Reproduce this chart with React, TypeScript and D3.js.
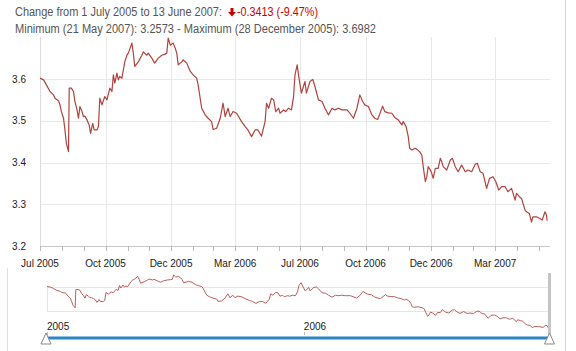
import React from 'react';
import * as d3 from 'd3';

// days since 1 July 2005, and the rate read at that day
const dayOffsets = [
  0, 5, 9, 14, 19, 21, 26, 28, 30, 33, 35, 37, 40, 41, 44, 47, 49, 52, 54, 56,
  59, 61, 63, 66, 69, 71, 74, 76, 80, 82, 84, 87, 91, 94, 98, 101, 103, 105, 108, 110,
  112, 115, 119, 122, 124, 129, 131, 133, 138, 143, 145, 150, 152, 157, 161, 166, 171, 175, 178, 180,
  183, 187, 190, 192, 194, 199, 201, 206, 211, 215, 220, 222, 227, 232, 236, 241, 243, 248, 253, 257,
  260, 264, 267, 271, 276, 283, 288, 292, 297, 302, 306, 311, 316, 318, 321, 325, 328, 331, 335, 337,
  342, 345, 349, 353, 356, 358, 361, 364, 367, 372, 374, 379, 383, 386, 391, 396, 400, 405, 410, 414,
  419, 424, 431, 435, 440, 445, 449, 453, 456, 461, 466, 470, 474, 477, 481, 484, 489, 494, 498, 503,
  508, 510, 514, 517, 519, 522, 527, 533, 536, 538, 541, 543, 545, 548, 550, 552, 555, 559, 562, 564,
  566, 571, 576, 579, 583, 587, 592, 597, 601, 606, 611, 614, 618, 622, 627, 631, 636, 640, 644, 648,
  653, 657, 662, 667, 669, 673, 676, 681, 683, 687, 690, 692, 697, 702, 705, 709, 711, 712,
];

const rates = [
  3.602, 3.598, 3.586, 3.570, 3.562, 3.554, 3.548, 3.538, 3.522, 3.506, 3.478, 3.446, 3.426, 3.578, 3.578, 3.570, 3.546, 3.526, 3.506, 3.534,
  3.522, 3.510, 3.511, 3.502, 3.490, 3.470, 3.494, 3.478, 3.478, 3.486, 3.554, 3.538, 3.558, 3.550, 3.578, 3.570, 3.610, 3.590, 3.614, 3.598,
  3.606, 3.602, 3.641, 3.657, 3.662, 3.686, 3.662, 3.630, 3.641, 3.657, 3.665, 3.657, 3.662, 3.650, 3.638, 3.650, 3.657, 3.659, 3.662, 3.698,
  3.681, 3.686, 3.673, 3.662, 3.634, 3.641, 3.646, 3.638, 3.618, 3.610, 3.602, 3.586, 3.530, 3.514, 3.506, 3.498, 3.479, 3.482, 3.506, 3.542,
  3.510, 3.530, 3.510, 3.522, 3.518, 3.498, 3.486, 3.478, 3.462, 3.478, 3.478, 3.463, 3.498, 3.542, 3.530, 3.554, 3.550, 3.522, 3.530, 3.518,
  3.526, 3.522, 3.530, 3.526, 3.558, 3.610, 3.634, 3.598, 3.566, 3.594, 3.566, 3.594, 3.599, 3.582, 3.550, 3.546, 3.530, 3.514, 3.530, 3.526,
  3.530, 3.526, 3.526, 3.518, 3.506, 3.530, 3.562, 3.546, 3.538, 3.534, 3.514, 3.506, 3.503, 3.516, 3.535, 3.522, 3.519, 3.518, 3.508, 3.502,
  3.490, 3.498, 3.486, 3.462, 3.434, 3.430, 3.434, 3.426, 3.418, 3.390, 3.354, 3.366, 3.390, 3.382, 3.374, 3.362, 3.386, 3.386, 3.410, 3.402,
  3.390, 3.382, 3.406, 3.410, 3.390, 3.378, 3.394, 3.378, 3.382, 3.378, 3.396, 3.398, 3.378, 3.374, 3.338, 3.362, 3.366, 3.354, 3.334, 3.342,
  3.342, 3.330, 3.338, 3.310, 3.326, 3.318, 3.314, 3.286, 3.282, 3.278, 3.2573, 3.270, 3.270, 3.266, 3.262, 3.282, 3.274, 3.2605,
];

const axisLabels = ['Jul 2005', 'Oct 2005', 'Dec 2005', 'Mar 2006', 'Jul 2006', 'Oct 2006', 'Dec 2006', 'Mar 2007'];
const yTicks = [3.2, 3.3, 3.4, 3.5, 3.6];
const navGridValues = [3.4, 3.6];
const navYears = ['2005', '2006'];

const START = new Date(2005, 6, 1);
const AXIS_END = new Date(2007, 5, 17);
const DATA_END = new Date(2007, 5, 13);
const FONT = 'Arial, "Liberation Sans", sans-serif';
const LINE_COLOR = '#b0433d';

export default function App() {
  const points = dayOffsets.map((d, i) => ({ date: d3.timeDay.offset(START, d), value: rates[i] }));

  // main chart scales
  const x = d3.scaleTime().domain([START, AXIS_END]).range([40, 550]);
  const y = d3.scaleLinear().domain([3.2, 3.7]).range([246, 37.25]);

  // navigator scales
  const nx = d3.scaleTime().domain([START, DATA_END]).range([47, 548]);
  const ny = d3.scaleLinear().domain([3.2573, 3.6982]).range([328, 275]);

  const line = d3.line<{ date: Date; value: number }>()
    .x(d => x(d.date))
    .y(d => y(d.value));
  const navLine = d3.line<{ date: Date; value: number }>()
    .x(d => nx(d.date))
    .y(d => ny(d.value));

  const monthTicks = d3.timeMonth.range(START, AXIS_END);
  const majorTicks = d3.timeMonth.every(3)!.range(START, AXIS_END);
  const yearTicks = navYears.map(yr => new Date(+yr, 6, 1));

  const [x0, x1] = x.range();
  const navL = nx.range()[0];
  const navR = nx.range()[1];

  return (
    <svg width={576} height={351} style={{ position: 'absolute', left: 0, top: 0, background: '#fff' }} fontFamily={FONT}>
      {/* header */}
      <text x={15} y={16} fontSize={12} fill="#555" textLength={207} lengthAdjust="spacingAndGlyphs">
        Change from 1 July 2005 to 13 June 2007:
      </text>
      <path d="M230.5,8 h3 v4 h2.5 l-4,4.5 l-4,-4.5 h2.5 z" fill="#cc0000" />
      <text x={237} y={16} fontSize={12} fill="#cc0000" textLength={81} lengthAdjust="spacingAndGlyphs">-0.3413 (-9.47%)</text>
      <text x={15} y={32.5} fontSize={12} fill="#555" textLength={361} lengthAdjust="spacingAndGlyphs">
        Minimum (21 May 2007): 3.2573 - Maximum (28 December 2005): 3.6982
      </text>

      {/* frame */}
      <line x1={565.5} x2={565.5} y1={0} y2={351} stroke="#d8d8d8" />
      <line x1={7.5} x2={7.5} y1={268} y2={351} stroke="#e0e0e0" />

      {/* grid */}
      {majorTicks.map((t, i) => (
        <line key={'vg' + i} x1={Math.round(x(t)) + 0.5} x2={Math.round(x(t)) + 0.5} y1={37} y2={246} stroke="#e8e8e8" />
      ))}
      {yTicks.map(v => (
        <line key={'hg' + v} x1={x0} x2={x1} y1={Math.round(y(v)) + 0.5} y2={Math.round(y(v)) + 0.5}
          stroke={v === 3.2 ? '#c8c8c8' : '#e8e8e8'} />
      ))}
      <line x1={40.5} x2={40.5} y1={37} y2={246} stroke="#dcdcdc" />

      {/* ticks */}
      {monthTicks.map((t, i) => (
        <line key={'mt' + i} x1={Math.round(x(t)) + 0.5} x2={Math.round(x(t)) + 0.5} y1={246} y2={251} stroke="#b8b8b8" />
      ))}
      {majorTicks.map((t, i) => (
        <text key={'xl' + i} x={x(t)} y={267} fontSize={10} fill="#1a1a1a" textAnchor="middle">{axisLabels[i]}</text>
      ))}
      {yTicks.map(v => (
        <text key={'yl' + v} x={26} y={y(v) + 3.5} fontSize={10} fill="#1a1a1a" textAnchor="end">{v.toFixed(1)}</text>
      ))}

      {/* series */}
      <path d={line(points) || ''} fill="none" stroke={LINE_COLOR} strokeWidth={1.2} strokeLinejoin="round" />

      {/* navigator */}
      {navGridValues.map(v => (
        <line key={'ng' + v} x1={navL} x2={navR} y1={Math.round(ny(v)) + 0.5} y2={Math.round(ny(v)) + 0.5} stroke="#e6e6e6" />
      ))}
      <line x1={navL + 0.5} x2={navL + 0.5} y1={Math.round(ny(3.6))} y2={Math.round(ny(3.4)) + 1} stroke="#e6e6e6" />
      <path d={navLine(points) || ''} fill="none" stroke="#b8605a" strokeWidth={1} />
      {yearTicks.map((t, i) => (
        <g key={'yr' + i}>
          <text x={nx(t)} y={330} fontSize={10} fill="#1a1a1a">{navYears[i]}</text>
          <line x1={Math.round(nx(t)) + 0.5} x2={Math.round(nx(t)) + 0.5} y1={332} y2={335} stroke="#bbb" />
        </g>
      ))}
      <rect x={navR} y={273} width={3} height={65} fill="#c4c4c4" />
      <line x1={navL} x2={navR + 1} y1={338} y2={338} stroke="#2b86c8" strokeWidth={3} />
      <path d={`M${navL - 1},333 L${navL + 4},344 L${navL - 6},344 Z`} fill="#fff" stroke="#888" />
      <path d={`M${navR + 1.5},333 L${navR + 6.5},344 L${navR - 3.5},344 Z`} fill="#fff" stroke="#888" />
    </svg>
  );
}
